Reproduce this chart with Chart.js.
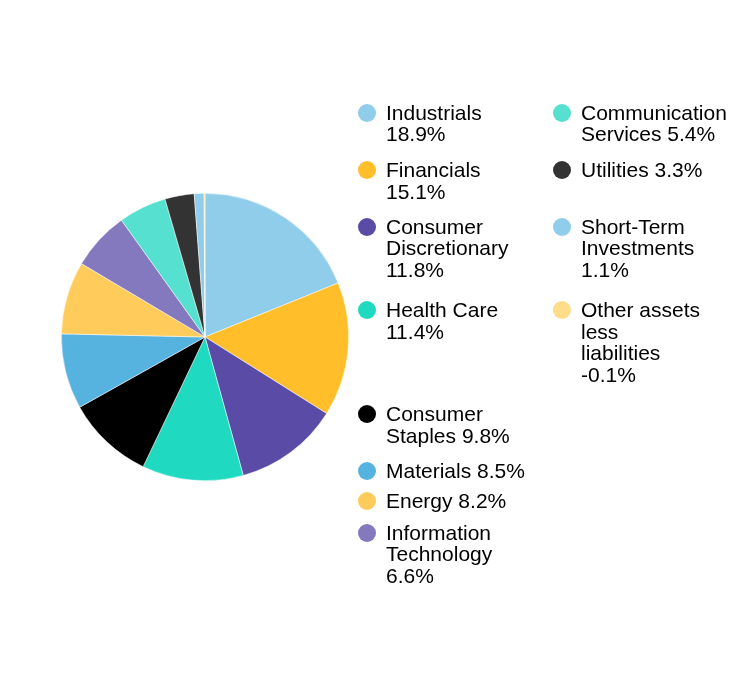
<!DOCTYPE html>
<html>
<head>
<meta charset="utf-8">
<script src="https://cdn.jsdelivr.net/npm/chart.js@4/dist/chart.umd.min.js"></script>
<style>
  html, body { margin: 0; padding: 0; background: #fff; }
  #wrap { position: relative; width: 756px; height: 684px; overflow: hidden; }
  #c { position: absolute; left: 0; top: 0; }
  .item { position: absolute; font-family: "Liberation Sans", Arial, sans-serif; font-size: 21px; line-height: 21.5px; color: #000; white-space: pre; }
  .dot { position: absolute; width: 18px; height: 18px; border-radius: 50%; }
</style>
</head>
<body>
<div id="wrap">
  <canvas id="c" width="756" height="684"></canvas>
</div>
<script>
const categories = ["Industrials", "Financials", "Consumer Discretionary", "Health Care",
  "Consumer Staples", "Materials", "Energy", "Information Technology",
  "Communication Services", "Utilities", "Short-Term Investments", "Other assets less liabilities"];
const values = [18.9, 15.1, 11.8, 11.4, 9.8, 8.5, 8.2, 6.6, 5.4, 3.3, 1.1, -0.1];
const colors = ["#8FCDEB", "#FFBE2A", "#5A4BA6", "#1FD9C1", "#000000", "#56B3E0",
  "#FFCC5C", "#8478BF", "#55E0D0", "#333333", "#8FCDEB", "#FDDC8A"];
// legend display text (line breaks as in the reference)
const legendNames = ["Industrials\n", "Financials\n", "Consumer\nDiscretionary\n", "Health Care\n",
  "Consumer\nStaples ", "Materials ", "Energy ", "Information\nTechnology\n",
  "Communication\nServices ", "Utilities ", "Short-Term\nInvestments\n", "Other assets\nless\nliabilities\n"];

// legend layout: [column x of dot centre, text x, first-line baseline]
const legendLayout = [
  [367, 386, 119.5], [367, 386, 177], [367, 386, 233.5], [367, 386, 317],
  [367, 386, 421], [367, 386, 478], [367, 386, 508], [367, 386, 539.5],
  [562, 581, 119.5], [562, 581, 177], [562, 581, 233.5], [562, 581, 317]
];

const wrap = document.getElementById('wrap');
categories.forEach((cat, i) => {
  const [dx, tx, base] = legendLayout[i];
  const dot = document.createElement('div');
  dot.className = 'dot';
  dot.style.background = colors[i];
  dot.style.left = (dx - 9) + 'px';
  dot.style.top = (base - 7 - 9) + 'px';
  wrap.appendChild(dot);
  const t = document.createElement('div');
  t.className = 'item';
  t.style.left = tx + 'px';
  t.style.top = (base - 18) + 'px';
  t.textContent = legendNames[i] + values[i].toFixed(1) + '%';
  wrap.appendChild(t);
});

new Chart(document.getElementById('c'), {
  type: 'pie',
  data: {
    labels: categories,
    datasets: [{
      data: values,
      backgroundColor: colors,
      borderColor: 'rgba(255,255,255,0.7)',
      borderWidth: 0.7
    }]
  },
  options: {
    responsive: false,
    animation: false,
    layout: { padding: { left: 61, top: 193, right: 407, bottom: 203 } },
    plugins: { legend: { display: false }, tooltip: { enabled: false } }
  }
});
</script>
</body>
</html>
